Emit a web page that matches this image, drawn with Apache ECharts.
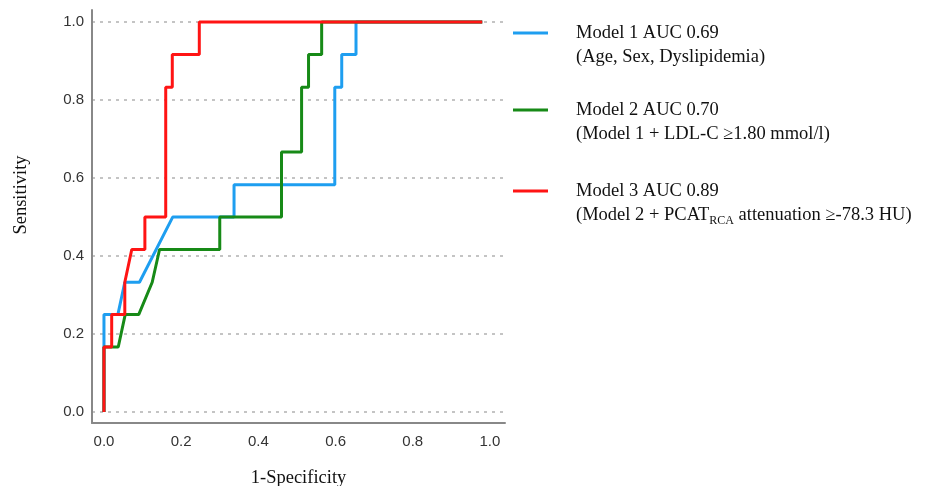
<!DOCTYPE html>
<html>
<head>
<meta charset="utf-8">
<script src="https://cdn.jsdelivr.net/npm/echarts@6/dist/echarts.min.js"></script>
<style>html,body{margin:0;padding:0;background:#fff;}#chart{width:933px;height:486px;}</style>
</head>
<body>
<div id="chart"></div>
<script>
// Tick labels
const xTicks = [0, 0.2, 0.4, 0.6, 0.8, 1.0];
const yTicks = [0, 0.2, 0.4, 0.6, 0.8, 1.0];

// Series names / descriptions
const seriesNames = ['Model 1 AUC 0.69', 'Model 2 AUC 0.70', 'Model 3 AUC 0.89'];
const seriesDesc = [
  '{a|(Age, Sex, Dyslipidemia)}',
  '{a|(Model 1 + LDL-C ≥1.80 mmol/l)}',
  '{a|(Model 2 + PCAT}{sub|RCA}{a| attenuation ≥-78.3 HU)}'
];

// Model 1 (1-Specificity, Sensitivity)
const model1X = [0, 0, 0.036, 0.054, 0.092, 0.178, 0.337, 0.337, 0.598, 0.598, 0.616, 0.616, 0.653, 0.653, 0.98];
const model1Y = [0, 0.25, 0.25, 0.333, 0.333, 0.5, 0.5, 0.583, 0.583, 0.833, 0.833, 0.917, 0.917, 1, 1];

// Model 2
const model2X = [0, 0, 0.037, 0.055, 0.09, 0.125, 0.144, 0.30, 0.30, 0.46, 0.46, 0.512, 0.512, 0.53, 0.53, 0.564, 0.564, 0.98];
const model2Y = [0, 0.167, 0.167, 0.25, 0.25, 0.333, 0.417, 0.417, 0.5, 0.5, 0.667, 0.667, 0.833, 0.833, 0.917, 0.917, 1, 1];

// Model 3
const model3X = [0, 0, 0.02, 0.02, 0.054, 0.054, 0.072, 0.106, 0.106, 0.16, 0.16, 0.177, 0.177, 0.247, 0.247, 0.98];
const model3Y = [0, 0.167, 0.167, 0.25, 0.25, 0.333, 0.417, 0.417, 0.5, 0.5, 0.833, 0.833, 0.917, 0.917, 1, 1];

const colors = ['#1e9ef0', '#178a17', '#ff1414'];
const xs = [model1X, model2X, model3X];
const ys = [model1Y, model2Y, model3Y];

const serif = '"Liberation Serif", "Times New Roman", serif';
const sans = '"Liberation Sans", Arial, sans-serif';

const chart = echarts.init(document.getElementById('chart'), null, {renderer: 'canvas'});

const series = seriesNames.map((name, i) => ({
  name: name,
  type: 'line',
  data: xs[i].map((x, j) => [x, ys[i][j]]),
  showSymbol: false,
  symbol: 'none',
  lineStyle: {color: colors[i], width: 3},
  itemStyle: {color: colors[i]},
  z: 2 + i,
  animation: false
}));

const legendTops = [-3, 74, 155];
const legends = seriesNames.map((name, i) => ({
  data: [name],
  left: 513,
  top: legendTops[i],
  orient: 'vertical',
  padding: 0,
  icon: 'rect',
  itemWidth: 35,
  itemHeight: 3,
  selectedMode: false,
  formatter: function (n) {
    return '\n{a|' + n + '}\n' + seriesDesc[i];
  },
  textStyle: {
    fontFamily: serif,
    fontSize: 18.5,
    lineHeight: 24,
    color: '#111',
    padding: [0, 0, 0, 23],
    rich: {
      a: {fontFamily: serif, fontSize: 18.5, lineHeight: 24, color: '#111'},
      sub: {fontFamily: serif, fontSize: 12, lineHeight: 12, color: '#111', padding: [12, 0, 0, 0]}
    }
  }
}));

chart.setOption({
  animation: false,
  backgroundColor: '#fff',
  grid: {left: 92, top: 10, width: 413, height: 413, containLabel: false, outerBoundsMode: 'none'},
  legend: legends,
  xAxis: {
    type: 'value',
    min: -0.031,
    max: 1.039,
    name: '1-Specificity',
    nameLocation: 'middle',
    nameGap: 46,
    nameTextStyle: {fontFamily: serif, fontSize: 18.5, color: '#111'},
    axisLine: {show: true, onZero: false, lineStyle: {color: '#888', width: 2}},
    axisTick: {show: false, customValues: xTicks},
    axisLabel: {customValues: xTicks, fontFamily: sans, fontSize: 15, color: '#333', margin: 11,
      formatter: v => v.toFixed(1)},
    splitLine: {show: false}
  },
  yAxis: {
    type: 'value',
    min: -0.028,
    max: 1.031,
    name: 'Sensitivity',
    nameLocation: 'middle',
    nameGap: 61,
    nameRotate: 90,
    nameTextStyle: {fontFamily: serif, fontSize: 18.5, color: '#111', padding: [0, 0, 0, 43]},
    axisLine: {show: true, onZero: false, lineStyle: {color: '#888', width: 2}},
    axisTick: {show: false, customValues: yTicks},
    axisLabel: {customValues: yTicks, fontFamily: sans, fontSize: 15, color: '#333', margin: 8,
      formatter: v => v.toFixed(1)},
    splitLine: {show: true, lineStyle: {color: '#c4c4c4', width: 2, type: [3, 5]}}
  },
  series: series
});
</script>
</body>
</html>
